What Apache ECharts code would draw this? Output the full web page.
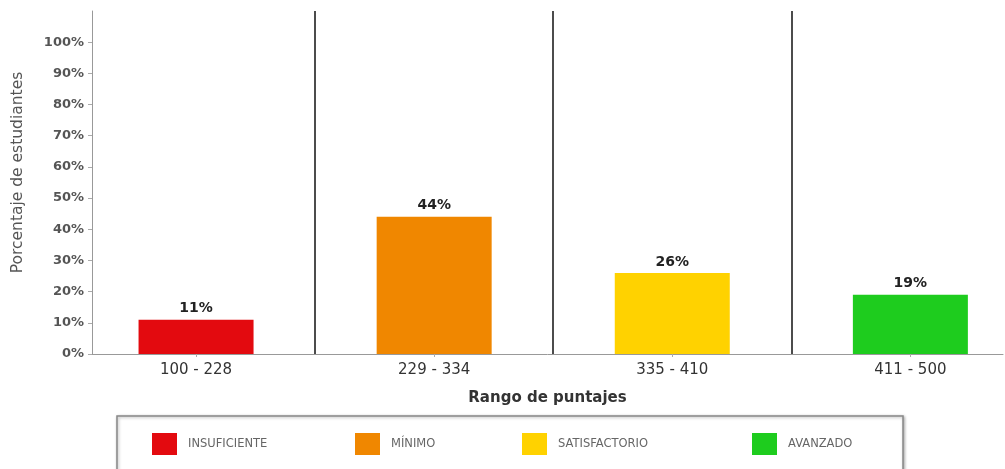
<!DOCTYPE html>
<html>
<head>
<meta charset="utf-8">
<script src="https://cdn.jsdelivr.net/npm/echarts@6/dist/echarts.min.js"></script>
<style>
  html, body { margin: 0; padding: 0; background: #fff; }
  #chart { width: 1005px; height: 469px; }
</style>
</head>
<body>
<div id="chart"></div>
<script>
// Score ranges and share of students in each performance level
const categories = ['100 - 228', '229 - 334', '335 - 410', '411 - 500'];
const levels = ['INSUFICIENTE', 'MÍNIMO', 'SATISFACTORIO', 'AVANZADO'];
const percentages = [11, 44, 26, 19];
const levelColors = ['#e30a0f', '#f08700', '#ffd200', '#1ecc1e'];
const yTicks = [0, 10, 20, 30, 40, 50, 60, 70, 80, 90, 100];
const categoryPositions = [0, 1, 2, 3];
const separators = [0.5, 1.5, 2.5];

const FONT = '"DejaVu Sans", "Open Sans", sans-serif';

const series = levels.map((name, i) => ({
  name: name,
  type: 'bar',
  barWidth: 115,
  barGap: '-100%',
  itemStyle: { color: levelColors[i] },
  label: {
    show: true,
    position: 'top',
    distance: 4,
    formatter: p => p.value[1] + '%',
    color: '#222',
    fontFamily: FONT,
    fontWeight: 'bold',
    fontSize: 14
  },
  data: [[categoryPositions[i], percentages[i]]],
  markLine: i === 0 ? {
    silent: true,
    symbol: 'none',
    label: { show: false },
    lineStyle: { color: '#111', width: 1.5, type: 'solid' },
    data: separators.map(v => ({ xAxis: v }))
  } : undefined
}));

// One legend block per level, spaced inside the framed box
const legendLefts = [152, 355, 522, 752];
const legends = levels.map((name, i) => ({
  data: [name],
  left: legendLefts[i],
  top: 433,
  icon: 'rect',
  itemWidth: 25,
  itemHeight: 22,
  itemGap: 0,
  padding: 0,
  selectedMode: false,
  textStyle: { fontFamily: FONT, fontSize: 11.5, color: '#666', padding: [0, 0, 0, 6] }
}));

const chart = echarts.init(document.getElementById('chart'), null, { renderer: 'canvas' });
chart.setOption({
  backgroundColor: '#fff',
  animation: false,
  grid: { left: 92, right: 2, top: 11, bottom: 115, containLabel: false },
  xAxis: {
    type: 'value',
    min: -0.437,
    max: 3.389,
    name: 'Rango de puntajes',
    nameLocation: 'middle',
    nameGap: 37,
    nameTextStyle: { fontFamily: FONT, fontWeight: 'bold', fontSize: 15, color: '#333' },
    axisLine: { show: true, onZero: false, lineStyle: { color: '#999', width: 1 } },
    axisTick: { show: true, length: 3, customValues: categoryPositions, lineStyle: { color: '#aaa' } },
    axisLabel: {
      customValues: categoryPositions,
      formatter: v => categories[Math.round(v)],
      fontFamily: FONT,
      fontSize: 15,
      color: '#333',
      margin: 9
    },
    splitLine: { show: false }
  },
  yAxis: {
    type: 'value',
    min: 0,
    max: 110,
    name: 'Porcentaje de estudiantes',
    nameLocation: 'middle',
    nameGap: 66,
    nameTextStyle: { fontFamily: FONT, fontSize: 15.5, color: '#555', padding: [0, 0, 0, 20] },
    axisLine: { show: true, onZero: false, lineStyle: { color: '#999', width: 1 } },
    axisTick: { show: true, length: 4, customValues: yTicks, lineStyle: { color: '#aaa' } },
    axisLabel: {
      customValues: yTicks,
      formatter: v => v + '%',
      fontFamily: FONT,
      fontSize: 13,
      fontWeight: 'bold',
      color: '#555',
      margin: 8
    },
    splitLine: { show: false }
  },
  legend: legends,
  graphic: [{
    type: 'rect',
    silent: true,
    z: -1,
    shape: { x: 117, y: 416, width: 786, height: 70 },
    style: {
      fill: '#fff',
      stroke: '#888',
      lineWidth: 1.5,
      shadowBlur: 3,
      shadowColor: 'rgba(0,0,0,0.3)',
      shadowOffsetX: 1,
      shadowOffsetY: 1
    }
  }],
  series: series
});
</script>
</body>
</html>
